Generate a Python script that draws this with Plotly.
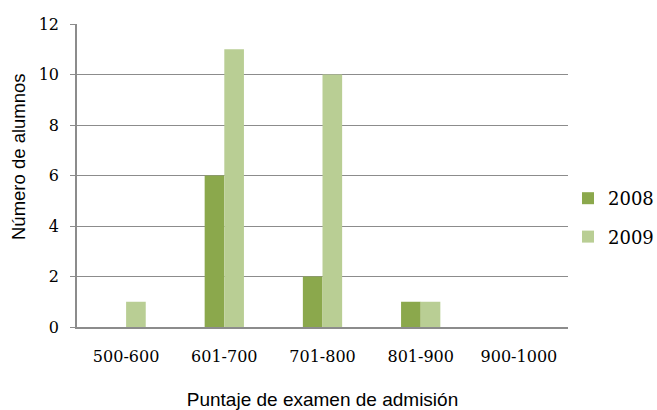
import plotly.graph_objects as go

# Admission exam score ranges and student counts per year
categories = ["500-600", "601-700", "701-800", "801-900", "900-1000"]
alumnos_2008 = [0, 6, 2, 1, 0]
alumnos_2009 = [1, 11, 10, 1, 0]
y_ticks = [0, 2, 4, 6, 8, 10, 12]

fig = go.Figure()
fig.add_trace(go.Bar(name="2008", x=categories, y=alumnos_2008,
                     marker=dict(color="#8BA84C", line=dict(width=0)),
                     legendgroup="a"))
fig.add_trace(go.Bar(name="2009", x=categories, y=alumnos_2009,
                     marker=dict(color="#B9CE94", line=dict(width=0)),
                     legendgroup="b"))

serif = "DejaVu Serif"
sans = "Liberation Sans"

fig.update_layout(
    width=657, height=410,
    margin=dict(l=77, r=89, t=24, b=83, autoexpand=False),
    paper_bgcolor="white", plot_bgcolor="white",
    barmode="group", bargap=0.6, bargroupgap=0,
    showlegend=True,
    legend=dict(xref="container", yref="container",
                x=568 / 657, y=1 - 180 / 410, xanchor="left", yanchor="top",
                font=dict(family=serif, size=18, color="#000"),
                tracegroupgap=12, bgcolor="rgba(0,0,0,0)"),
    xaxis=dict(showgrid=False, showline=True, linecolor="#8c8c8c", linewidth=1.5,
               ticks="", tickfont=dict(family=serif, size=16, color="#000"),
               ticklabelstandoff=14,
               title=dict(text="Puntaje de examen de admisión",
                          font=dict(family=sans, size=19, color="#000"),
                          standoff=28)),
    yaxis=dict(range=[0, 12], tickvals=y_ticks, showgrid=True,
               gridcolor="#8c8c8c", gridwidth=1,
               showline=True, linecolor="#8c8c8c", linewidth=1.5,
               ticks="outside", ticklen=5, tickcolor="#8c8c8c",
               tickfont=dict(family=serif, size=16, color="#000"),
               ticklabelstandoff=8),
    annotations=[dict(text="Número de alumnos", textangle=-90,
                      xref="paper", yref="paper",
                      x=-77 / 491 + 18 / 491, y=(327 - 157) / 303,
                      xanchor="center", yanchor="middle", showarrow=False,
                      font=dict(family=sans, size=18.5, color="#000"))],
)

fig.write_html("out.html")
